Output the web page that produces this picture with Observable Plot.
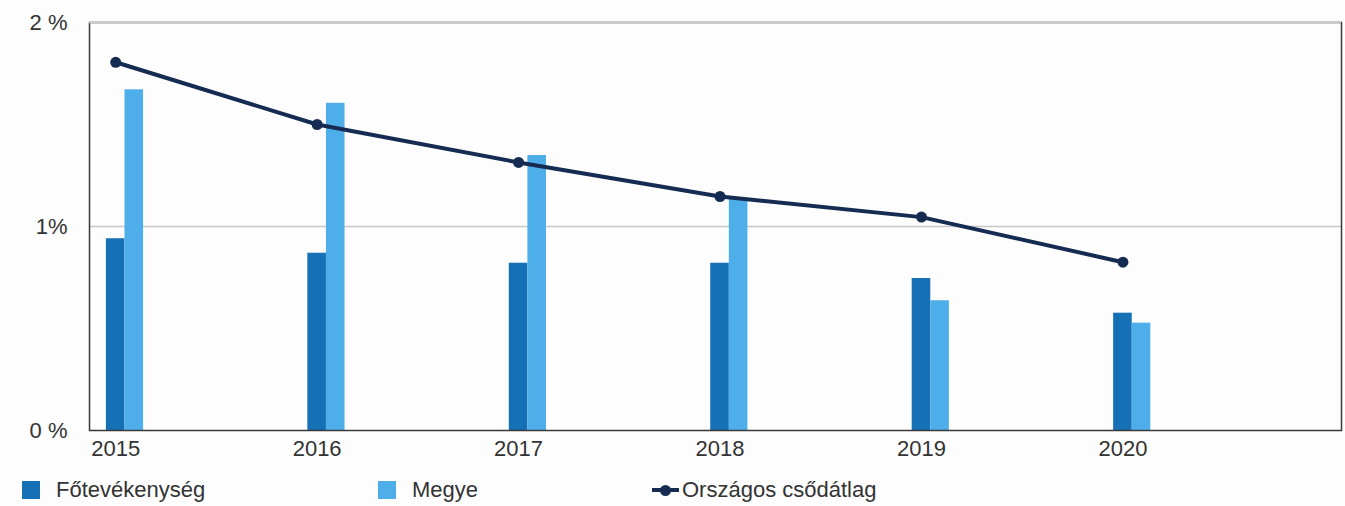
<!DOCTYPE html>
<html>
<head>
<meta charset="utf-8">
<script src="https://cdn.jsdelivr.net/npm/d3@7"></script>
<script src="https://cdn.jsdelivr.net/npm/@observablehq/plot@0.6"></script>
<style>
  html, body { margin: 0; padding: 0; background: #fcfdfc; }
  body { width: 1345px; height: 506px; position: relative; overflow: hidden; font-family: "Liberation Sans", Arial, sans-serif; }
  #chart { position: absolute; left: 0; top: 0; }
  .legend { position: absolute; top: 480px; left: 0; width: 1345px; height: 20px; font-size: 22px; color: #333; }
  .item { position: absolute; top: 0; display: flex; align-items: center; height: 19px; white-space: nowrap; }
  .sw { width: 18px; height: 18px; margin-right: 16px; }
  .lm { position: relative; width: 27px; height: 18px; margin-right: 3px; }
  .lm .ln { position: absolute; left: 0; right: 0; top: 7px; height: 4px; background: #152b52; }
  .lm .dt { position: absolute; left: 8px; top: 4px; width: 11px; height: 11px; border-radius: 50%; background: #152b52; }
</style>
</head>
<body>
<div id="chart"></div>
<div class="legend" id="legend"></div>
<script>
const years = [2015, 2016, 2017, 2018, 2019, 2020];
const fotevekenyseg = [0.94, 0.869, 0.82, 0.82, 0.745, 0.575];
const megye = [1.67, 1.604, 1.348, 1.133, 0.636, 0.526];
const orszagos = [1.805, 1.5, 1.314, 1.147, 1.046, 0.825];
const yTicks = [0, 1, 2];
const yTickLabels = ["0 %", "1%", "2 %"];
const seriesNames = ["Főtevékenység", "Megye", "Országos csődátlag"];
const colors = ["#1570b5", "#4eaeea", "#152b52"];

const data = years.map((y, i) => ({year: y, f: fotevekenyseg[i], m: megye[i], o: orszagos[i]}));
const bw = 0.0923; // bar width in years

const chart = Plot.plot({
  width: 1345,
  height: 470,
  marginLeft: 89,
  marginRight: 4,
  marginTop: 22,
  marginBottom: 40,
  style: {background: "transparent", fontFamily: "'Liberation Sans', Arial, sans-serif", fontSize: "22px", color: "#333"},
  x: {domain: [2014.87, 2021.085], axis: null, label: null},
  y: {domain: [0, 2], axis: null, label: null},
  marks: [
    Plot.ruleY([1], {stroke: "#c8c8c8", strokeWidth: 1.5}),
    Plot.rectY(data, {x1: d => d.year - bw / 2, x2: d => d.year + bw / 2, y: "f", fill: colors[0]}),
    Plot.rectY(data, {x1: d => d.year + bw / 2, x2: d => d.year + bw * 1.5, y: "m", fill: colors[1]}),
    Plot.line(data, {x: "year", y: "o", stroke: colors[2], strokeWidth: 4}),
    Plot.dot(data, {x: "year", y: "o", r: 5.5, fill: colors[2]}),
    Plot.frame({stroke: "#3a3a3a", strokeWidth: 1.5}),
    Plot.ruleY([2], {stroke: "#c8c8c8", strokeWidth: 1.5}),
    Plot.axisX(years, {tickSize: 0, tickPadding: 10, label: null, tickFormat: d => String(d), fontSize: 22, fill: "#333"}),
    Plot.axisY(yTicks, {tickSize: 0, tickPadding: 22, label: null, tickFormat: d => yTickLabels[yTicks.indexOf(d)], fontSize: 22, fill: "#333"})
  ]
});
document.getElementById("chart").appendChild(chart);

const legend = document.getElementById("legend");
const lefts = [22, 378, 652];
seriesNames.forEach((name, i) => {
  const it = document.createElement("div");
  it.className = "item";
  it.style.left = lefts[i] + "px";
  if (i < 2) {
    const sw = document.createElement("div");
    sw.className = "sw";
    sw.style.background = colors[i];
    it.appendChild(sw);
  } else {
    const lm = document.createElement("div");
    lm.className = "lm";
    lm.innerHTML = '<div class="ln"></div><div class="dt"></div>';
    it.appendChild(lm);
  }
  const t = document.createElement("span");
  t.textContent = name;
  it.appendChild(t);
  legend.appendChild(it);
});
</script>
</body>
</html>
